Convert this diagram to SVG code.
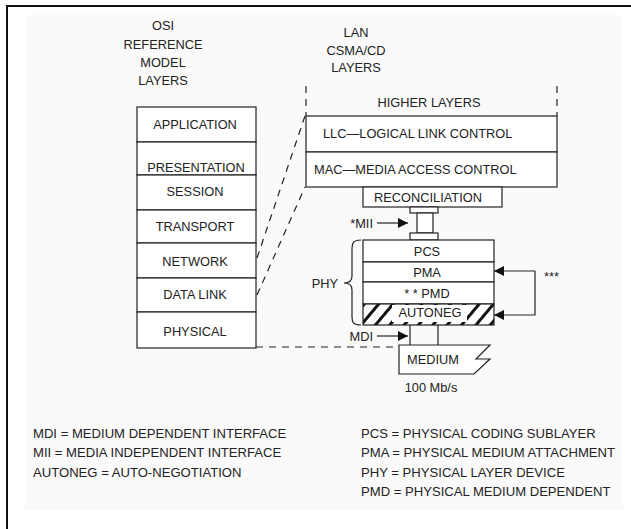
<svg xmlns="http://www.w3.org/2000/svg" width="631" height="529" viewBox="0 0 631 529">
<style>
text{font-family:"Liberation Sans",Arial,sans-serif;font-size:12.8px;fill:#222}
.lg{font-size:13.1px}
.c{text-anchor:middle}
.e{text-anchor:end}
.box{fill:#fff;stroke:#222;stroke-width:1.2}
.ln{fill:none;stroke:#222;stroke-width:1.2}
.dash{fill:none;stroke:#222;stroke-width:1.2;stroke-dasharray:7 6}
</style>
<defs>
<marker id="ah" viewBox="0 0 10 10" refX="10" refY="5" markerWidth="10" markerHeight="10" markerUnits="userSpaceOnUse" orient="auto">
<path d="M0,0 L10,5 L0,10 Z" fill="#111"/>
</marker>
<pattern id="hatch" patternUnits="userSpaceOnUse" width="11" height="11" patternTransform="rotate(40)">
<rect x="0" y="0" width="11" height="11" fill="#fff"/>
<rect x="0" y="0" width="3" height="11" fill="#111"/>
</pattern>
</defs>
<rect x="0" y="0" width="631" height="529" fill="#fff"/>
<rect x="25" y="15" width="598" height="495" fill="#fafafa"/>
<path d="M7,529 V6 H631" fill="none" stroke="#111" stroke-width="2"/>

<g id="headers">
<text class="c" x="163" y="30">OSI</text>
<text class="c" x="163" y="49">REFERENCE</text>
<text class="c" x="163" y="67">MODEL</text>
<text class="c" x="163" y="85">LAYERS</text>
<text class="c" x="356" y="37">LAN</text>
<text class="c" x="356" y="55">CSMA/CD</text>
<text class="c" x="356" y="72">LAYERS</text>
</g>

<g id="osi">
<g id="application"><rect class="box" x="137" y="107" width="119" height="35"/><text class="c" x="195" y="128.5">APPLICATION</text></g>
<g id="presentation"><rect class="box" x="137" y="142" width="119" height="33"/><text class="c" x="196" y="171.5">PRESENTATION</text></g>
<g id="session"><rect class="box" x="137" y="175" width="119" height="35"/><text class="c" x="195" y="196">SESSION</text></g>
<g id="transport"><rect class="box" x="137" y="210" width="119" height="33"/><text class="c" x="195" y="231">TRANSPORT</text></g>
<g id="network"><rect class="box" x="137" y="243" width="119" height="35"/><text class="c" x="195" y="265.5">NETWORK</text></g>
<g id="datalink"><rect class="box" x="137" y="278" width="119" height="34"/><text class="c" x="195" y="299">DATA LINK</text></g>
<g id="physical"><rect class="box" x="137" y="312" width="119" height="36"/><text class="c" x="195" y="336">PHYSICAL</text></g>
</g>

<g id="lan">
<g id="higher"><text class="c" x="429" y="106.5">HIGHER LAYERS</text></g>
<g id="llc"><rect class="box" x="306" y="116" width="251" height="36"/><text x="323" y="138">LLC—LOGICAL LINK CONTROL</text></g>
<g id="mac"><rect class="box" x="306" y="152" width="251" height="35"/><text x="314" y="174">MAC—MEDIA ACCESS CONTROL</text></g>
<g id="reconciliation"><rect class="box" x="363" y="187" width="139" height="20"/><text class="c" x="428" y="201.5">RECONCILIATION</text></g>
<g id="mii">
<rect class="box" x="410" y="207" width="28" height="6"/>
<rect class="box" x="417" y="213" width="16" height="20"/>
<rect class="box" x="410" y="233" width="28" height="7"/>
<text class="e" x="373" y="227.5">*MII</text>
</g>
<g id="phy">
<rect class="box" x="363" y="240" width="131" height="22"/><text class="c" x="427" y="255.5">PCS</text>
<rect class="box" x="363" y="262" width="131" height="20"/><text class="c" x="427" y="276.5">PMA</text>
<rect class="box" x="363" y="282" width="131" height="22"/><text class="c" x="427" y="297.5">* * PMD</text>
<rect x="363" y="304" width="131" height="21" fill="url(#hatch)" stroke="#222" stroke-width="1.2"/>
<rect x="392" y="305" width="75" height="17" fill="#fff"/>
<text class="c" x="430" y="316.5">AUTONEG</text>
<text class="e" x="338" y="287.5">PHY</text>
<path class="ln" d="M361,240 C353,240 352,243 352,250 L352,276 C352,281 349,283 344,283 C349,283 352,285 352,290 L352,317 C352,322 353,325 361,325"/>
</g>
<g id="mdi">
<path class="ln" d="M410,325 V345 M438,325 V345"/>
<text class="e" x="373" y="340.5">MDI</text>
</g>
<g id="medium">
<path class="box" d="M399,345 H490 L476,359 H490 L474,374 H399 Z"/>
<text class="c" x="433" y="363.5">MEDIUM</text>
<text class="c" x="431" y="392">100 Mb/s</text>
</g>
<text x="544" y="281">***</text>
</g>

<g id="connectors">
<path class="dash" d="M306,86 V116 M557,86 V116"/>
<path class="dash" d="M257,258 L305,116"/>
<path class="dash" d="M257,295 L305,187"/>
<path class="dash" d="M256,347 H399"/>
<path class="ln" d="M377,223 H408" marker-end="url(#ah)"/>
<path class="ln" d="M377,336 H408" marker-end="url(#ah)"/>
<path class="ln" d="M535,271 H494" marker-end="url(#ah)"/>
<path class="ln" d="M535,271 V315 H494" marker-end="url(#ah)"/>
</g>

<g id="legend">
<text class="lg" x="33" y="437.5">MDI = MEDIUM DEPENDENT INTERFACE</text>
<text class="lg" x="33" y="457">MII = MEDIA INDEPENDENT INTERFACE</text>
<text class="lg" x="33" y="476.5">AUTONEG = AUTO-NEGOTIATION</text>
<text class="lg" x="361" y="437.5">PCS = PHYSICAL CODING SUBLAYER</text>
<text class="lg" x="361" y="457">PMA = PHYSICAL MEDIUM ATTACHMENT</text>
<text class="lg" x="361" y="476.5">PHY = PHYSICAL LAYER DEVICE</text>
<text class="lg" x="361" y="496">PMD = PHYSICAL MEDIUM DEPENDENT</text>
</g>
</svg>
